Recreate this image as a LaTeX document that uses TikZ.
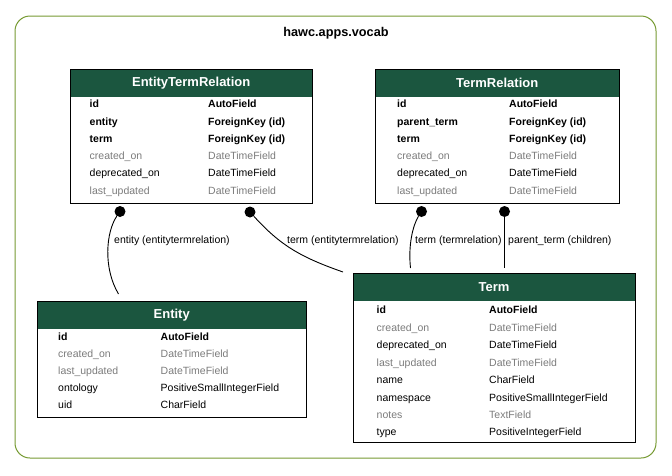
\documentclass[tikz,border=0pt]{standalone}
\usepackage{fontspec}
\setmainfont{Liberation Sans}
\usetikzlibrary{positioning}
\definecolor{headgreen}{HTML}{1B563F}
\definecolor{framegreen}{HTML}{769A32}
\definecolor{nullgray}{HTML}{7B7B7B}
\tikzset{
  tblbox/.style={draw=black, line width=1pt, rectangle, inner sep=0pt, anchor=north west},
  tblhead/.style={fill=headgreen, text=white, rectangle, inner sep=0pt, anchor=north west,
    font=\fontsize{13}{15}\selectfont\bfseries},
  datafield/.style={anchor=west, inner sep=0pt, text height=7.5pt, text depth=2pt,
    font=\fontsize{10.5}{12}\selectfont},
  keyfield/.style={datafield, font=\fontsize{10.5}{12}\selectfont\bfseries},
  nullfield/.style={datafield, text=nullgray},
  rellabel/.style={datafield},
  rel/.style={line width=0.9pt, black},
  fkdot/.style={circle, fill=black, inner sep=0pt, minimum size=11pt}
}
\begin{document}
\begin{tikzpicture}[x=1pt, y=-1pt]
\useasboundingbox (0,0) rectangle (672,475);
% app cluster
\draw[framegreen, line width=1pt, rounded corners=15pt] (15,16) rectangle (656,458);
\node[font=\fontsize{12.7}{15}\selectfont\bfseries] (app) at (336,33) {hawc.apps.vocab};

% EntityTermRelation
\node[tblhead, minimum width=242pt, minimum height=28pt] (etrhead) at (70,69) {EntityTermRelation};
\node[tblbox, minimum width=242pt, minimum height=134pt] (etr) at (70,69) {};
\foreach \f/\t/\s [count=\i from 0] in {id/AutoField/keyfield, entity/ForeignKey (id)/keyfield,
    term/ForeignKey (id)/keyfield, created\_on/DateTimeField/nullfield,
    deprecated\_on/DateTimeField/datafield, last\_updated/DateTimeField/nullfield}{
  \node[\s] (etrf\i) at (89.5, 105+17.3*\i) {\f};
  \node[\s] (etrt\i) at (208, 105+17.3*\i) {\t};
}

% TermRelation
\node[tblhead, minimum width=244pt, minimum height=28pt] (trhead) at (375,69) {TermRelation};
\node[tblbox, minimum width=244pt, minimum height=134pt] (tr) at (375,69) {};
\foreach \f/\t/\s [count=\i from 0] in {id/AutoField/keyfield, parent\_term/ForeignKey (id)/keyfield,
    term/ForeignKey (id)/keyfield, created\_on/DateTimeField/nullfield,
    deprecated\_on/DateTimeField/datafield, last\_updated/DateTimeField/nullfield}{
  \node[\s] (trf\i) at (397, 105+17.3*\i) {\f};
  \node[\s] (trt\i) at (509, 105+17.3*\i) {\t};
}

% Entity
\node[tblhead, minimum width=269pt, minimum height=28pt] (enthead) at (37,301) {Entity};
\node[tblbox, minimum width=269pt, minimum height=115.5pt] (ent) at (37,301) {};
\foreach \f/\t/\s [count=\i from 0] in {id/AutoField/keyfield, created\_on/DateTimeField/nullfield,
    last\_updated/DateTimeField/nullfield, ontology/PositiveSmallIntegerField/datafield,
    uid/CharField/datafield}{
  \node[\s] (entf\i) at (58, 338+17*\i) {\f};
  \node[\s] (entt\i) at (160.5, 338+17*\i) {\t};
}

% Term
\node[tblhead, minimum width=281.5pt, minimum height=28pt] (termhead) at (353,273) {Term};
\node[tblbox, minimum width=281.5pt, minimum height=169pt] (term) at (353,273) {};
\foreach \f/\t/\s [count=\i from 0] in {id/AutoField/keyfield, created\_on/DateTimeField/nullfield,
    deprecated\_on/DateTimeField/datafield, last\_updated/DateTimeField/nullfield,
    name/CharField/datafield, namespace/PositiveSmallIntegerField/datafield,
    notes/TextField/nullfield, type/PositiveIntegerField/datafield}{
  \node[\s] (termf\i) at (376.5, 311+17.45*\i) {\f};
  \node[\s] (termt\i) at (489, 311+17.45*\i) {\t};
}

% relations
\coordinate (entin) at (118.5,294);
\coordinate (termin1) at (343,272);
\coordinate (termin2) at (410.5,268);
\coordinate (termin3) at (504.5,268);
\node[fkdot] (etrent) at (120,211.5) {};
\node[fkdot] (etrterm) at (250,212) {};
\node[fkdot] (trterm) at (421.5,211.5) {};
\node[fkdot] (trparent) at (504.5,211.5) {};
\draw[rel] (etrent) .. controls (106,232) and (103,268) .. (entin);
\draw[rel] (etrterm) .. controls (280,245) and (300,257) .. (termin1);
\draw[rel] (trterm) .. controls (413,225) and (408,245) .. (termin2);
\draw[rel] (trparent) -- (termin3);
\node[rellabel] (entlbl) at (114,240.5) {entity (entitytermrelation)};
\node[rellabel] (etrlbl) at (287,240.5) {term (entitytermrelation)};
\node[rellabel] (trlbl) at (415,240.5) {term (termrelation)};
\node[rellabel] (parentlbl) at (508,240.5) {parent\_term (children)};
\end{tikzpicture}
\end{document}
